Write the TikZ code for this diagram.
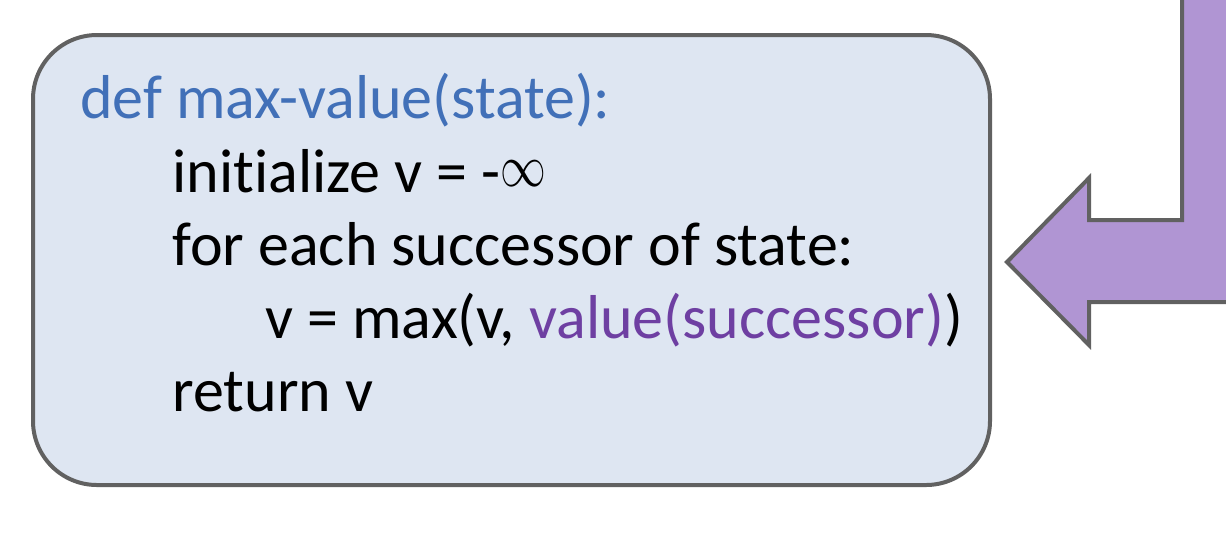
\documentclass[tikz,border=0pt]{standalone}
\usepackage{fontspec}
\setmainfont[Ligatures=NoCommon]{Carlito}
\usepackage{tikz}
\usetikzlibrary{positioning,calc}
\definecolor{boxfill}{HTML}{DEE6F2}
\definecolor{boxline}{HTML}{616161}
\definecolor{arrowfill}{HTML}{B095D3}
\definecolor{kwblue}{HTML}{4170B8}
\definecolor{callpurple}{HTML}{6E3FA2}
\newcommand{\thininf}{\raisebox{3pt}{\scalebox{0.92}[1.2]{$\infty$}}}

\begin{document}
\begin{tikzpicture}[x=0.5pt,y=-0.5pt,line join=miter]
  \tikzstyle{code}=[anchor=base west,inner sep=0pt,text=black,font=\fontsize{31}{36}\selectfont]
  \tikzstyle{panel}=[draw=boxline,fill=boxfill,line width=2pt,rounded corners=32pt]

  \useasboundingbox (0,0) rectangle (1226,532);
  \clip (0,0) rectangle (1226,532);

  % code box
  \draw[panel] (33,35) rectangle (990,485);

  \node[code,text=kwblue]	(head)	at (80,118)	{def max-value(state):};
  \node[code]			(init)	at (172,192)	{initialize v = -\thininf};
  \node[code]			(loop)	at (172,265)	{for each successor of state:};
  \node[code]			(upd)	at (265,338)	{v = max(v, \textcolor{callpurple}{value(successor)})};
  \node[code]			(ret)	at (172,411)	{return v};

  % bent arrow from above
  \draw[draw=boxline,fill=arrowfill,line width=2pt]
    (1182,-10) -- (1182,220) -- (1089,220) -- (1089,178) -- (1007,262)
    -- (1089,345) -- (1089,302) -- (1240,302) -- (1240,-10) -- cycle;

\end{tikzpicture}
\end{document}
